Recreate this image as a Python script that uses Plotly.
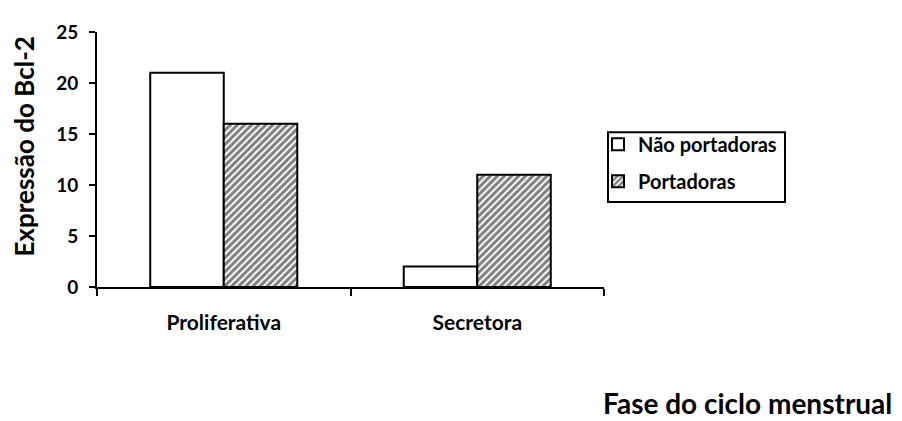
import plotly.graph_objects as go

categories = ["Proliferativa", "Secretora"]
nao_portadoras = [21, 2]
portadoras = [16, 11]
y_ticks = [0, 5, 10, 15, 20, 25]

FONT = "Lato"

fig = go.Figure()
fig.add_trace(go.Bar(
    x=categories, y=nao_portadoras, name="Não portadoras", legendgroup="a",
    marker=dict(color="white", line=dict(color="black", width=2)),
))
fig.add_trace(go.Bar(
    x=categories, y=portadoras, name="Portadoras", legendgroup="b",
    marker=dict(color="white", line=dict(color="black", width=2),
                pattern=dict(shape="/", size=5, solidity=0.6, fgcolor="black", bgcolor="white")),
))

PW, PH = 507, 267  # plot area size in px

def px_x(x):
    return (x - 97) / PW

def px_y(y):
    return (287 - y) / PH

# page body adds an 8px offset; compensate in size and margins
fig.update_layout(
    width=894, height=413,
    margin=dict(l=89, r=298, t=12, b=134),
    paper_bgcolor="white", plot_bgcolor="white",
    barmode="group", bargap=0.42, bargroupgap=0,
    font=dict(family=FONT, color="black"),
    showlegend=True,
    legend=dict(x=px_x(598), y=px_y(117), xanchor="left", yanchor="top",
                borderwidth=0, bgcolor="rgba(0,0,0,0)",
                font=dict(family=FONT, size=20, color="black", weight="bold"),
                traceorder="grouped", tracegroupgap=8, itemwidth=30),
    xaxis=dict(type="category", showline=True, linecolor="black", linewidth=2,
               ticks="outside", tickson="boundaries", ticklen=7, tickwidth=2, tickcolor="black",
               tickfont=dict(family=FONT, size=21, weight="bold"), showgrid=False,
               ticklabelstandoff=16, ticklabeloverflow="allow",
               range=[-0.5, 1.5]),
    yaxis=dict(range=[0, 25], tickvals=y_ticks, showline=True, linecolor="black", linewidth=2,
               ticks="outside", ticklen=6, tickwidth=2, tickcolor="black",
               tickfont=dict(family=FONT, size=19, weight="bold"), showgrid=False,
               ticklabelstandoff=7, ticklabeloverflow="allow",
               zeroline=False),
    shapes=[
        dict(type="rect", xref="paper", yref="paper",
             x0=px_x(608), x1=px_x(785), y0=px_y(198), y1=px_y(125),
             line=dict(color="black", width=2), fillcolor="rgba(0,0,0,0)"),
    ],
    annotations=[
        dict(text="<b>Expressão do Bcl-2</b>", xref="paper", yref="paper",
             x=px_x(24), y=px_y(140), xanchor="center", yanchor="middle",
             textangle=-90, showarrow=False,
             font=dict(family=FONT, size=26, color="black")),
        dict(text="<b>Fase do ciclo menstrual</b>", xref="paper", yref="paper",
             x=px_x(747), y=px_y(408), xanchor="center", yanchor="middle",
             showarrow=False,
             font=dict(family=FONT, size=28, color="black")),
    ],
)

fig.write_html("out.html")
